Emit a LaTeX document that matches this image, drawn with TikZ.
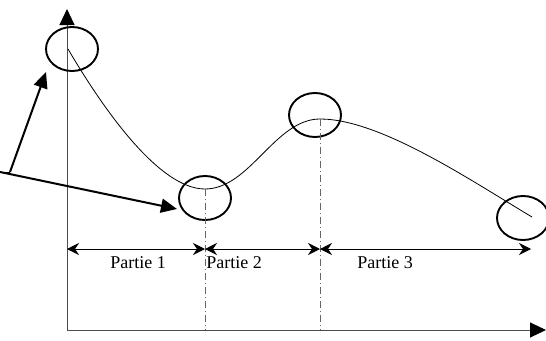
\documentclass[tikz,border=0pt]{standalone}
\usepackage{fontspec}
\setmainfont{Liberation Serif}
\usetikzlibrary{arrows.meta,shapes.geometric}
\begin{document}
\begin{tikzpicture}[x=1pt,y=-1pt,
  axis/.style={line width=1pt,draw=black!70,-{Triangle[length=16pt,width=15pt,black]}},
  zone/.style={ellipse,draw,line width=1.9pt,minimum width=52pt,minimum height=44pt,inner sep=0pt},
  guide/.style={draw=black!60,line width=0.6pt,dash pattern=on 7pt off 3pt on 1pt off 3pt},
  span/.style={line width=0.8pt,{Stealth[length=12pt,width=12pt,inset=4pt]}-{Stealth[length=12pt,width=12pt,inset=4pt]}},
  pointer/.style={line width=2pt,-{Triangle[length=16pt,width=14pt]}},
  lbl/.style={font=\fontsize{18}{20}\selectfont,inner sep=0pt}]
\useasboundingbox (0,0) rectangle (546,340);

% axes
\coordinate (O) at (67,330);
\coordinate (ytop) at (67,9);
\coordinate (xend) at (546,330);
\draw[axis] (O) -- (ytop);
\draw[axis] (O) -- (xend);

% curve key points
\coordinate (p0) at (68,49);
\coordinate (p1) at (205,189);
\coordinate (p2) at (320,119);
\coordinate (p3) at (532,217);
\draw[line width=0.8pt] (p0) .. controls (105,112) and (160,189) .. (p1)
  .. controls (250,189) and (275,119) .. (p2)
  .. controls (380,119) and (470,180) .. (p3);

% circled regions
\node[zone] (c0) at (72,49) {};
\node[zone] (c1) at (205,198) {};
\node[zone] (c2) at (315,115) {};
\node[zone] (c3) at (523,218) {};

% vertical guides
\coordinate (g1) at (205,330);
\coordinate (g2) at (320,330);
\draw[guide] (p1) -- (g1);
\draw[guide] (p2) -- (g2);

% dimension arrows
\coordinate (d0) at (67,249);
\coordinate (d1) at (205,249);
\coordinate (d2) at (320,249);
\coordinate (d3) at (531,249);
\draw[span] (d0) -- (d1);
\draw[span] (d1) -- (d2);
\draw[span] (d2) -- (d3);
\node[lbl] (t1) at (138,263) {Partie 1};
\node[lbl] (t2) at (234,263) {Partie 2};
\node[lbl] (t3) at (385,263) {Partie 3};

% pointers
\coordinate (s0) at (0,172);
\coordinate (s) at (10,172);
\coordinate (a1) at (46,72);
\coordinate (a2) at (177,209);
\draw[line width=1pt] (s0) -- (s);
\draw[pointer] (s) -- (a1);
\draw[pointer] (s0) -- (a2);
\end{tikzpicture}
\end{document}
